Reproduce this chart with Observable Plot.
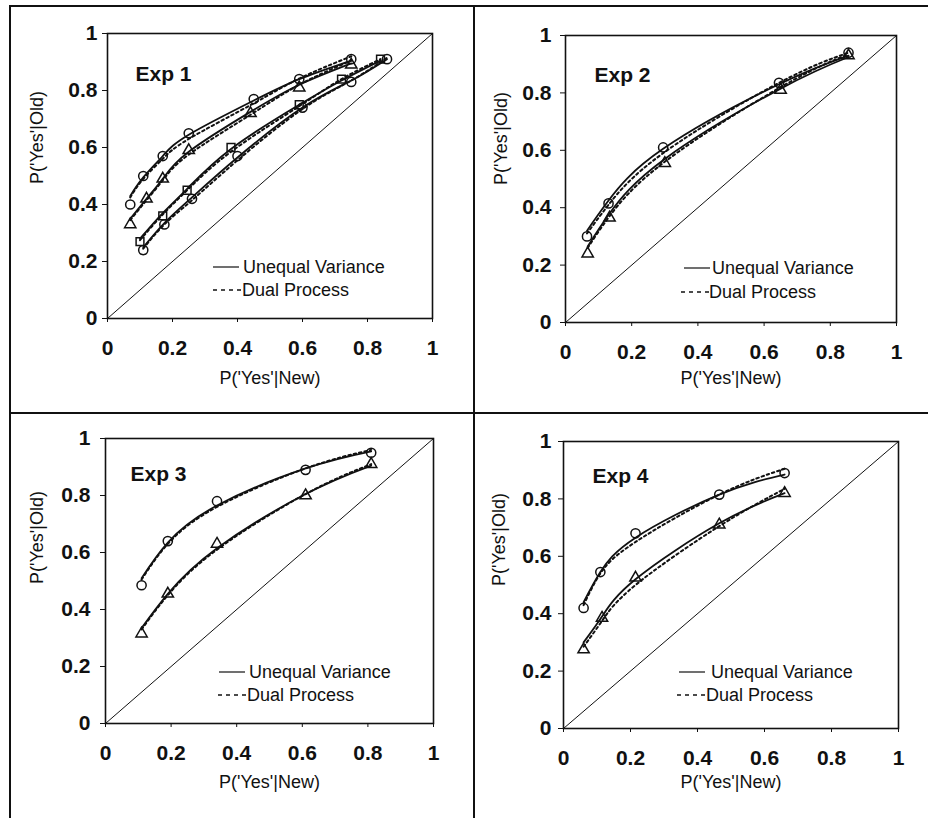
<!DOCTYPE html>
<html><head><meta charset="utf-8">
<script src="https://cdn.jsdelivr.net/npm/d3@7"></script>
<script src="https://cdn.jsdelivr.net/npm/@observablehq/plot@0.6"></script>
<style>
body{margin:0;background:#fff;}
#root{position:relative;width:928px;height:818px;overflow:hidden;font-family:"Liberation Sans",Arial,sans-serif;background:#fff;}
.pnl{position:absolute;}
.bd{position:absolute;background:#111;}
.lg{position:absolute;overflow:visible;}
</style></head><body><div id="root"></div>
<script>
// ---------- data ----------
const ticks = [0, 0.2, 0.4, 0.6, 0.8, 1];
const tickLabels = ["0", "0.2", "0.4", "0.6", "0.8", "1"];
const chance = [0, 1];
const xTitle = "P('Yes'|New)";
const yTitle = "P('Yes'|Old)";
const legendLabels = ["Unequal Variance", "Dual Process"];

// Exp 1
const e1CircHiFA  = [0.07, 0.11, 0.17, 0.25, 0.45, 0.59, 0.75];
const e1CircHiHit = [0.40, 0.50, 0.57, 0.65, 0.77, 0.84, 0.91];
const e1CircHiUV  = [0.43, 0.495, 0.57, 0.645, 0.765, 0.84, 0.905];
const e1CircHiDP  = [0.425, 0.49, 0.56, 0.63, 0.755, 0.842, 0.92];
const e1TriFA  = [0.07, 0.12, 0.17, 0.25, 0.44, 0.59, 0.75];
const e1TriHit = [0.33, 0.42, 0.49, 0.59, 0.72, 0.81, 0.89];
const e1TriUV  = [0.35, 0.42, 0.49, 0.585, 0.725, 0.82, 0.895];
const e1TriDP  = [0.345, 0.415, 0.485, 0.575, 0.715, 0.82, 0.905];
const e1SqFA  = [0.10, 0.17, 0.245, 0.38, 0.59, 0.72, 0.84];
const e1SqHit = [0.27, 0.36, 0.45, 0.60, 0.75, 0.84, 0.91];
const e1SqUV  = [0.28, 0.37, 0.455, 0.595, 0.75, 0.835, 0.905];
const e1SqDP  = [0.275, 0.365, 0.45, 0.585, 0.745, 0.84, 0.91];
const e1CircLoFA  = [0.11, 0.175, 0.26, 0.40, 0.60, 0.75, 0.86];
const e1CircLoHit = [0.24, 0.33, 0.42, 0.57, 0.74, 0.83, 0.91];
const e1CircLoUV  = [0.25, 0.335, 0.425, 0.565, 0.74, 0.835, 0.91];
const e1CircLoDP  = [0.245, 0.33, 0.415, 0.555, 0.735, 0.835, 0.915];

// Exp 2
const e2CircFA  = [0.065, 0.13, 0.295, 0.645, 0.855];
const e2CircHit = [0.30, 0.415, 0.61, 0.835, 0.94];
const e2CircUV  = [0.32, 0.425, 0.605, 0.83, 0.93];
const e2CircDP  = [0.31, 0.41, 0.59, 0.835, 0.94];
const e2TriFA  = [0.067, 0.133, 0.30, 0.65, 0.855];
const e2TriHit = [0.24, 0.365, 0.555, 0.81, 0.93];
const e2TriUV  = [0.265, 0.38, 0.57, 0.815, 0.925];
const e2TriDP  = [0.26, 0.37, 0.56, 0.82, 0.935];

// Exp 3
const e3CircFA  = [0.11, 0.19, 0.34, 0.61, 0.81];
const e3CircHit = [0.485, 0.64, 0.78, 0.89, 0.95];
const e3CircUV  = [0.51, 0.635, 0.765, 0.895, 0.955];
const e3CircDP  = [0.505, 0.63, 0.76, 0.895, 0.96];
const e3TriFA  = [0.11, 0.19, 0.34, 0.61, 0.81];
const e3TriHit = [0.315, 0.455, 0.63, 0.80, 0.91];
const e3TriUV  = [0.335, 0.455, 0.615, 0.805, 0.905];
const e3TriDP  = [0.33, 0.45, 0.61, 0.805, 0.91];

// Exp 4
const e4CircFA  = [0.06, 0.11, 0.215, 0.465, 0.66];
const e4CircHit = [0.42, 0.545, 0.68, 0.815, 0.89];
const e4CircUV  = [0.44, 0.545, 0.665, 0.815, 0.885];
const e4CircDP  = [0.43, 0.54, 0.65, 0.815, 0.905];
const e4TriFA  = [0.06, 0.115, 0.215, 0.465, 0.66];
const e4TriHit = [0.275, 0.385, 0.525, 0.71, 0.82];
const e4TriUV  = [0.30, 0.39, 0.52, 0.715, 0.82];
const e4TriDP  = [0.285, 0.375, 0.50, 0.705, 0.835];

// ---------- layout ----------
const ser = (symbol, fa, hit, uv, dp) => ({symbol, fa, hit, uv, dp});
const panels = [
  {title: "Exp 1", left: 0, top: 0, w: 475, h: 413, m: [33, 43, 95, 107], ypad: 5, ylab: [-70, 8], xlab: 65, tt: [28, 47],
   lg: {lx: 213, ly: 267, t1: 243, lx2: 213, ly2: 290, t2: 242},
   series: [ser("circle", e1CircHiFA, e1CircHiHit, e1CircHiUV, e1CircHiDP), ser("triangle", e1TriFA, e1TriHit, e1TriUV, e1TriDP),
            ser("square", e1SqFA, e1SqHit, e1SqUV, e1SqDP), ser("circle", e1CircLoFA, e1CircLoHit, e1CircLoUV, e1CircLoDP)]},
  {title: "Exp 2", left: 475, top: 0, w: 453, h: 413, m: [35, 32, 91, 90], ypad: 9, ylab: [-64, 6], xlab: 61, tt: [29, 46],
   lg: {lx: 684, ly: 268, t1: 712, lx2: 681, ly2: 292, t2: 709},
   series: [ser("circle", e2CircFA, e2CircHit, e2CircUV, e2CircDP), ser("triangle", e2TriFA, e2TriHit, e2TriUV, e2TriDP)]},
  {title: "Exp 3", left: 0, top: 413, w: 475, h: 405, m: [25, 42, 95, 105], ypad: 10, ylab: [-68, 3], xlab: 64, tt: [25, 42],
   lg: {lx: 219, ly: 672, t1: 249, lx2: 218, ly2: 695, t2: 247},
   series: [ser("circle", e3CircFA, e3CircHit, e3CircUV, e3CircDP), ser("triangle", e3TriFA, e3TriHit, e3TriUV, e3TriDP)]},
  {title: "Exp 4", left: 475, top: 413, w: 453, h: 405, m: [28, 30, 90, 88], ypad: 7, ylab: [-64, 1], xlab: 59, tt: [29, 41],
   lg: {lx: 679, ly: 672, t1: 711, lx2: 677, ly2: 695, t2: 706},
   series: [ser("circle", e4CircFA, e4CircHit, e4CircUV, e4CircDP), ser("triangle", e4TriFA, e4TriHit, e4TriUV, e4TriDP)]}
];

const root = document.getElementById("root");
const FONT = '"Liberation Sans", Arial, sans-serif';
const fmt = d => tickLabels[ticks.indexOf(d)];

for (const p of panels) {
  const marks = [
    Plot.line(chance, {x: d => d, y: d => d, stroke: "#111", strokeWidth: 1})
  ];
  for (const s of p.series) {
    const pts = s.fa.map((x, i) => ({x, hit: s.hit[i], uv: s.uv[i], dp: s.dp[i]}));
    marks.push(Plot.line(pts, {x: "x", y: "dp", curve: "natural", stroke: "#111", strokeWidth: 2, strokeDasharray: "2.5,3"}));
    marks.push(Plot.line(pts, {x: "x", y: "uv", curve: "natural", stroke: "#111", strokeWidth: 1.8}));
    marks.push(Plot.dot(pts, {x: "x", y: "hit", symbol: s.symbol,
      r: s.symbol === "circle" ? 4.6 : s.symbol === "triangle" ? 4.2 : 4.4,
      stroke: "#111", strokeWidth: 1.5, fill: "none"}));
  }
  marks.push(
    Plot.frame({stroke: "#111", strokeWidth: 1.6}),
    Plot.axisX({ticks, tickFormat: fmt, tickSize: 4, tickPadding: 18, fontSize: 21, fontWeight: "bold", label: null, stroke: "#111"}),
    Plot.axisY({ticks, tickFormat: fmt, tickSize: 5, tickPadding: p.ypad, fontSize: 21, fontWeight: "bold", label: null, stroke: "#111"}),
    Plot.text([p.title], {text: d => d, frameAnchor: "top-left", dx: p.tt[0], dy: p.tt[1], textAnchor: "start", lineAnchor: "bottom", fontSize: 21, fontWeight: "bold", fill: "#111"}),
    Plot.text([xTitle], {text: d => d, frameAnchor: "bottom", dy: p.xlab, fontSize: 18, fill: "#111"}),
    Plot.text([yTitle], {text: d => d, frameAnchor: "left", dx: p.ylab[0], dy: p.ylab[1], rotate: -90, fontSize: 18, fill: "#111"})
  );
  const chart = Plot.plot({
    width: p.w, height: p.h,
    marginTop: p.m[0], marginRight: p.m[1], marginBottom: p.m[2], marginLeft: p.m[3],
    x: {domain: [0, 1]}, y: {domain: [0, 1]},
    style: {fontFamily: FONT, background: "transparent", color: "#111"},
    marks
  });
  chart.classList.add("pnl");
  chart.style.left = p.left + "px";
  chart.style.top = p.top + "px";
  root.appendChild(chart);

  // legend
  const g = p.lg;
  const svg = d3.create("svg").attr("class", "lg").attr("width", 220).attr("height", 60)
    .style("left", (g.lx2 - 4) + "px").style("top", (g.ly - 15) + "px");
  const ox = g.lx2 - 4, oy = g.ly - 15;
  svg.append("line").attr("x1", g.lx - ox).attr("x2", g.lx + 26 - ox).attr("y1", g.ly - oy).attr("y2", g.ly - oy)
    .attr("stroke", "#111").attr("stroke-width", 1.2);
  svg.append("text").attr("x", g.t1 - ox).attr("y", g.ly - oy + 6).text(legendLabels[0])
    .attr("font-family", FONT).attr("font-size", 18).attr("fill", "#111");
  svg.append("line").attr("x1", g.lx2 - ox).attr("x2", g.t2 - ox).attr("y1", g.ly2 - oy).attr("y2", g.ly2 - oy)
    .attr("stroke", "#111").attr("stroke-width", 1.4).attr("stroke-dasharray", "4,4");
  svg.append("text").attr("x", g.t2 - ox).attr("y", g.ly2 - oy + 6).text(legendLabels[1])
    .attr("font-family", FONT).attr("font-size", 18).attr("fill", "#111");
  root.appendChild(svg.node());
}

// panel borders
const borders = [
  [10, 5, 918, 2], [9, 5, 2, 813], [473, 5, 2, 813], [10, 412, 918, 2]
];
for (const [l, t, w, h] of borders) {
  const d = document.createElement("div");
  d.className = "bd";
  Object.assign(d.style, {left: l + "px", top: t + "px", width: w + "px", height: h + "px"});
  root.appendChild(d);
}
</script></body></html>
